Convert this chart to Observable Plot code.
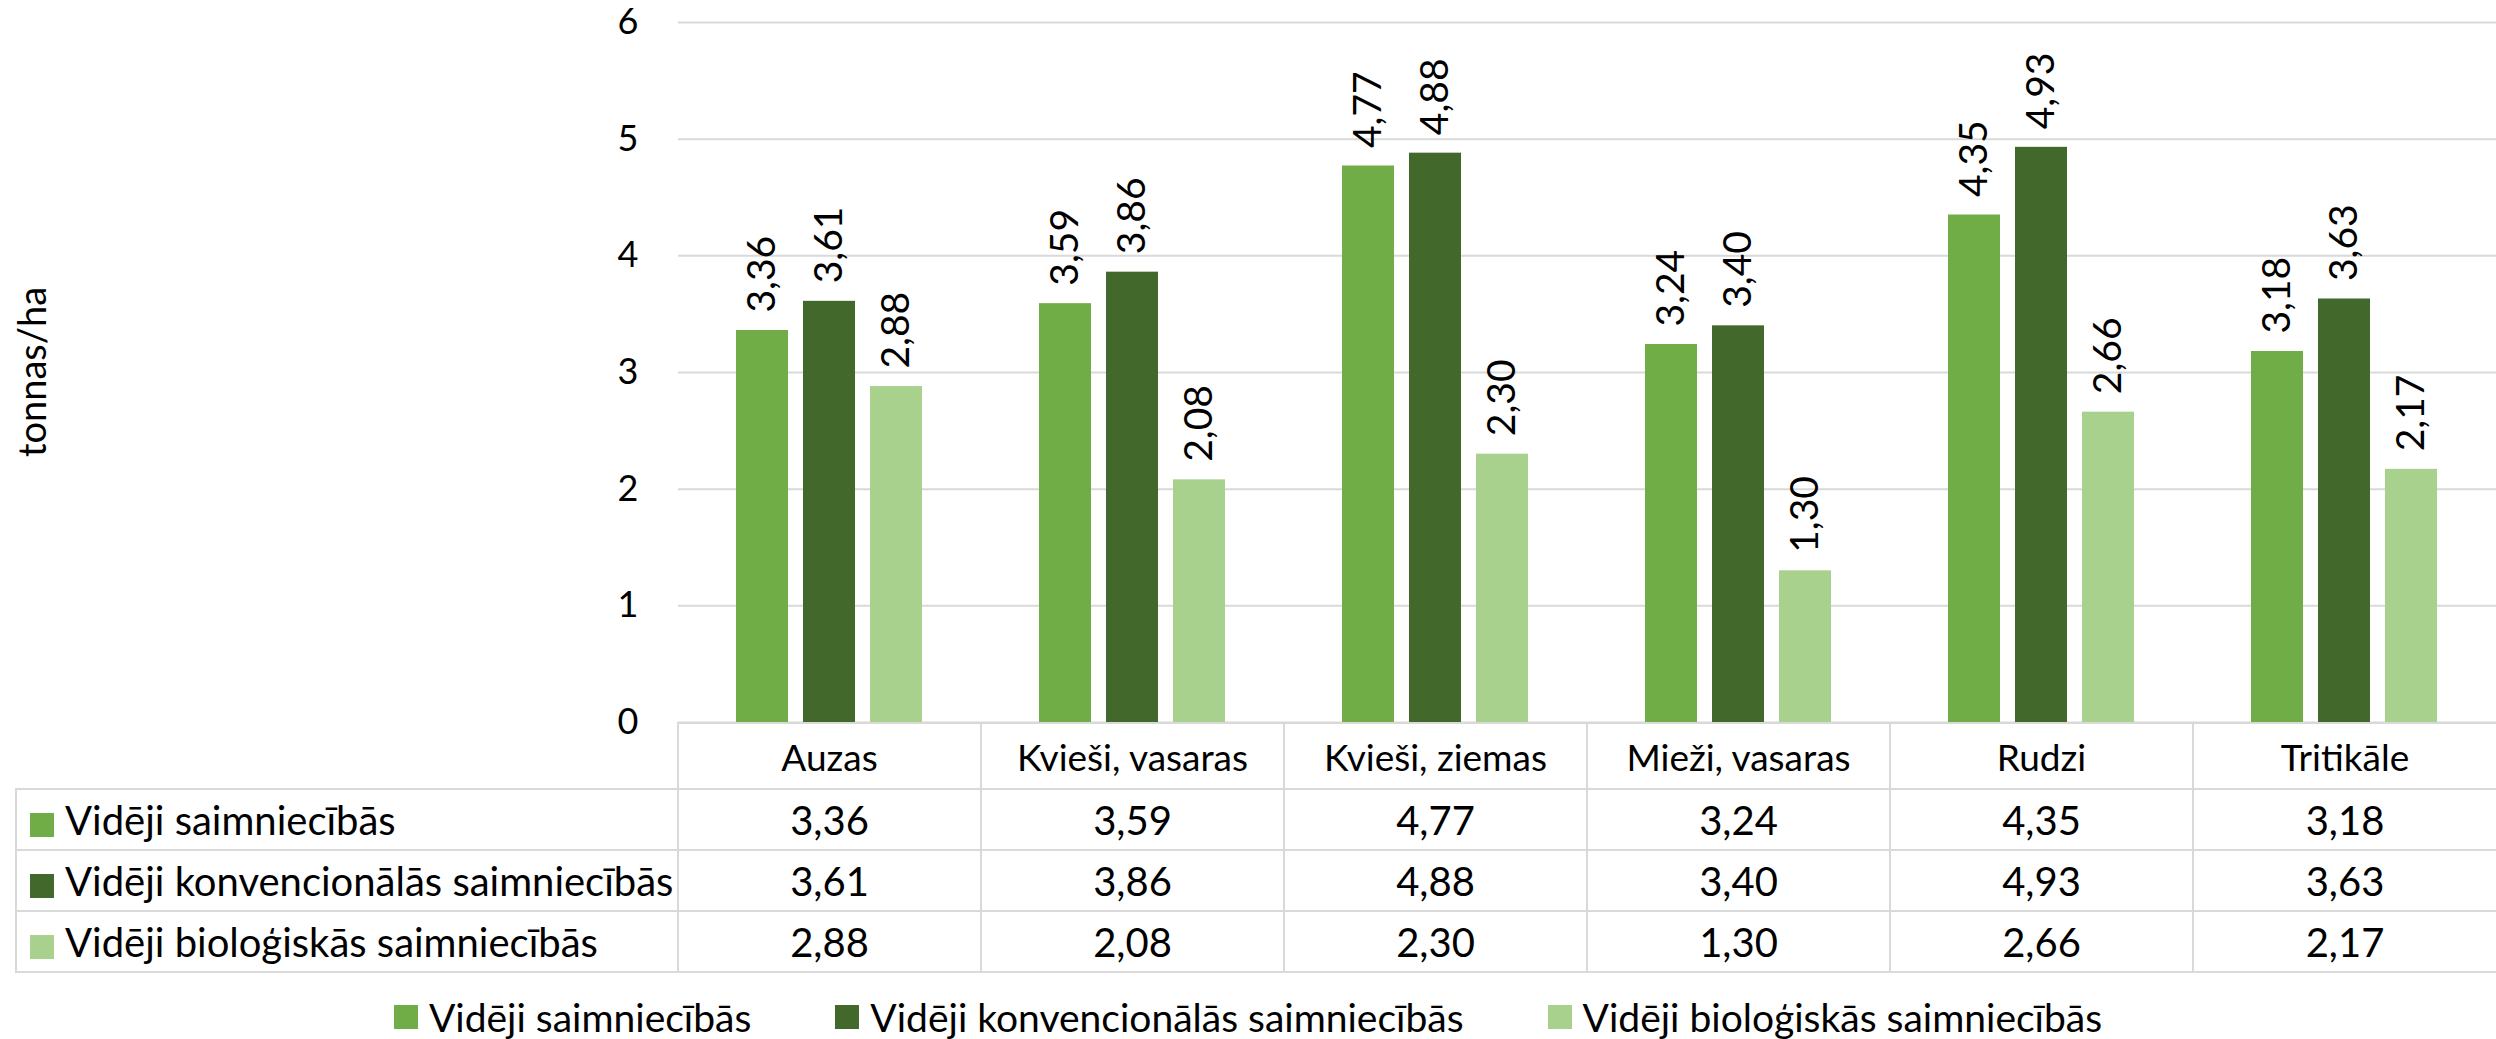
<!DOCTYPE html>
<html>
<head>
<meta charset="utf-8">
<script src="https://cdn.jsdelivr.net/npm/d3@7"></script>
<script src="https://cdn.jsdelivr.net/npm/@observablehq/plot@0.6"></script>
<style>
  html, body { margin: 0; padding: 0; background: #fff; }
  body { width: 2496px; height: 1039px; position: relative; overflow: hidden; font-family: Lato, "Open Sans", sans-serif; color: #000; }
  #chart { position: absolute; left: 0; top: 0; }
  #ytitle { position: absolute; left: 31px; top: 372px; transform: translate(-50%, -50%) rotate(-90deg); font-size: 38px; white-space: nowrap; }
  #tbl { position: absolute; left: 15px; top: 722px; border-collapse: collapse; table-layout: fixed; font-size: 40px; }
  #tbl td { border: 2px solid #d9d9d9; padding: 0; text-align: center; white-space: nowrap; }
  #tbl tr.head td { height: 64px; font-size: 37px; }
  #tbl tr.body td { height: 59px; }
  #tbl td.corner { border-top: none; border-left: none; }
  #tbl td.last { border-right: none; }
  #tbl td.rowlab { text-align: left; padding-left: 13px; font-size: 40px; }
  .sw { display: inline-block; width: 24px; height: 24px; margin-right: 11px; vertical-align: -2px; }
  #legend { position: absolute; left: 0; top: 994px; width: 2496px; display: flex; justify-content: center; gap: 84px; font-size: 39px; }
  #legend .item { display: flex; align-items: center; white-space: nowrap; }
</style>
</head>
<body>
<div id="chart"></div>
<div id="ytitle">tonnas/ha</div>
<table id="tbl"></table>
<div id="legend"></div>
<script>
const categories = ["Auzas", "Kvieši, vasaras", "Kvieši, ziemas", "Mieži, vasaras", "Rudzi", "Tritikāle"];
const seriesNames = ["Vidēji saimniecībās", "Vidēji konvencionālās saimniecībās", "Vidēji bioloģiskās saimniecībās"];
const avgAll  = [3.36, 3.59, 4.77, 3.24, 4.35, 3.18];
const avgConv = [3.61, 3.86, 4.88, 3.40, 4.93, 3.63];
const avgBio  = [2.88, 2.08, 2.30, 1.30, 2.66, 2.17];
const yTicks = [0, 1, 2, 3, 4, 5, 6];
const colors = ["#70AD47", "#43682B", "#A9D18E"];

const seriesValues = [avgAll, avgConv, avgBio];
const fmt = v => v.toFixed(2).replace(".", ",");
const data = categories.flatMap((c, i) =>
  seriesNames.map((s, j) => ({cat: c, series: s, value: seriesValues[j][i]}))
);

const plot = Plot.plot({
  width: 2496,
  height: 724,
  marginTop: 22,
  marginBottom: 2,
  marginLeft: 677,
  marginRight: 0,
  style: {fontFamily: "Lato, 'Open Sans', sans-serif", fontSize: "36px", color: "#000", background: "transparent", overflow: "visible"},
  fx: {domain: categories, paddingInner: 0, paddingOuter: 0, axis: null},
  x: {domain: seriesNames, paddingInner: 0.222, paddingOuter: 0.855, axis: null},
  y: {domain: [0, 6], ticks: yTicks, tickSize: 0, tickPadding: 40, tickFormat: d => String(d), label: null},
  color: {domain: seriesNames, range: colors},
  marks: [
    Plot.ruleY(yTicks, {stroke: "#d9d9d9", strokeWidth: 2}),
    Plot.barY(data, {fx: "cat", x: "series", y: "value", fill: "series"}),
    Plot.text(data, {fx: "cat", x: "series", y: "value", text: d => fmt(d.value), rotate: -90, textAnchor: "start", dy: -18, fontSize: 39, fill: "#000"})
  ]
});
document.getElementById("chart").appendChild(plot);

// data table below the plot, columns aligned to the fx bands
const fxScale = plot.scale("fx");
const bw = fxScale.bandwidth || ((2496 - 677) / categories.length);
const firstW = 677 - 15;
const tbl = d3.select("#tbl");
const cg = tbl.append("colgroup");
cg.append("col").style("width", firstW + "px");
categories.forEach(() => cg.append("col").style("width", bw + "px"));
const head = tbl.append("tr").attr("class", "head");
head.append("td").attr("class", "corner");
categories.forEach((c, i) => head.append("td").attr("class", i === categories.length - 1 ? "last" : null).text(c));
seriesNames.forEach((s, j) => {
  const tr = tbl.append("tr").attr("class", "body");
  const lab = tr.append("td").attr("class", "rowlab");
  lab.append("span").attr("class", "sw").style("background", colors[j]);
  lab.append("span").text(s);
  seriesValues[j].forEach((v, i) => tr.append("td").attr("class", i === categories.length - 1 ? "last" : null).text(fmt(v)));
});

// legend
const lg = d3.select("#legend");
seriesNames.forEach((s, j) => {
  const it = lg.append("div").attr("class", "item");
  it.append("span").attr("class", "sw").style("background", colors[j]);
  it.append("span").text(s);
});
</script>
</body>
</html>
